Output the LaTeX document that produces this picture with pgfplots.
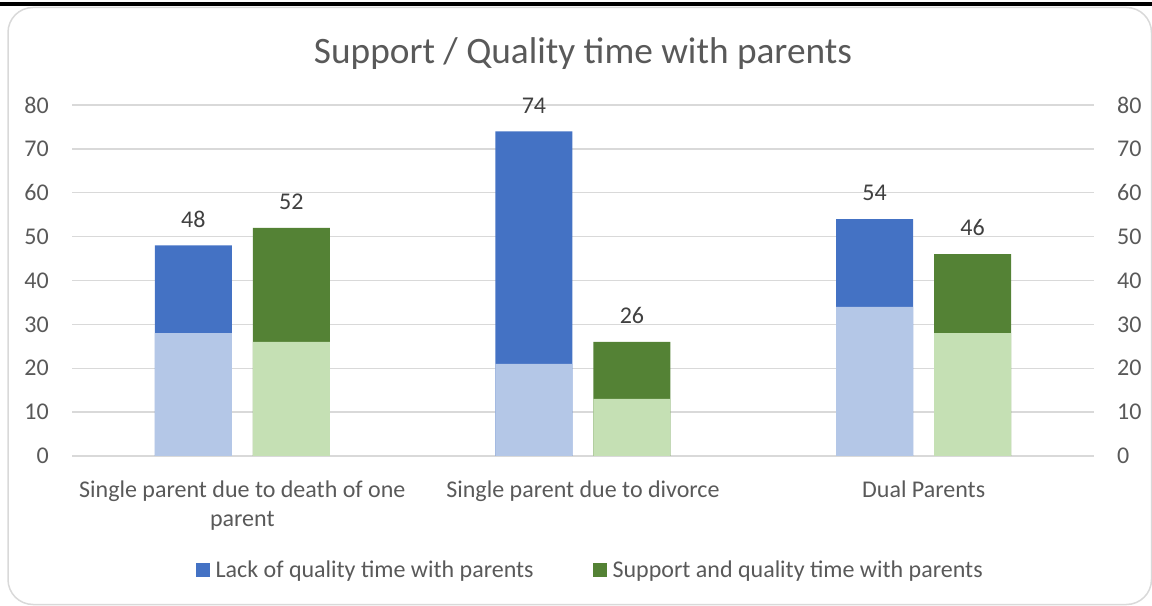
\documentclass[border=0pt]{standalone}
\usepackage{fontspec}
\setmainfont{Carlito}
\usepackage{pgfplots}
\pgfplotsset{compat=1.18}

\definecolor{darkblue}{HTML}{4472C4}
\definecolor{lightblue}{HTML}{B4C7E7}
\definecolor{darkgreen}{HTML}{548235}
\definecolor{lightgreen}{HTML}{C5E0B4}
\definecolor{gridgray}{HTML}{D9D9D9}
\definecolor{textgray}{HTML}{595959}
\definecolor{labelgray}{HTML}{404040}

\newcommand{\tickfont}{\fontsize{24bp}{29bp}\selectfont}

\begin{document}
\begin{tikzpicture}
\useasboundingbox (0bp,0bp) rectangle (1152bp,606bp);
% rule above the chart box
\fill[black] (0bp,600bp) rectangle (1152bp,603.5bp);
% chart box
\draw[gridgray, line width=1.5bp, rounded corners=25bp] (8bp,1.5bp) rectangle (1151.5bp,598.5bp);
% title
\node[text=textgray, font=\fontsize{37.3bp}{44bp}\selectfont] at (583bp,552bp) {Support / Quality time with parents};

\begin{axis}[
  at={(72bp,150bp)}, anchor=south west,
  scale only axis, width=1022bp, height=351bp,
  xmin=-0.5, xmax=2.5, ymin=0, ymax=80,
  ytick={0,10,...,80},
  ymajorgrids, grid style={gridgray, line width=1.3bp},
  axis line style={draw=none},
  tick style={draw=none},
  /pgf/number format/assume math mode=true,
  yticklabel style={font=\tickfont, text=textgray, inner sep=0pt},
  yticklabel shift=23bp,
  xtick={0,1,2},
  xticklabels={{Single parent due to death of one\\parent},{Single parent due to divorce},{Dual Parents}},
  xticklabel style={font=\tickfont, text=textgray, align=center, inner sep=0pt, anchor=north},
  xticklabel shift=20bp,
  ybar, bar width=77bp,
  legend columns=2,
  legend style={draw=none, fill=none, font=\tickfont, text=textgray,
    at={(0.507,-0.325)}, anchor=center,
    /tikz/every odd column/.append style={column sep=4bp},
    /tikz/every even column/.append style={column sep=57bp}},
  legend image code/.code={\fill[#1] (0bp,-7bp) rectangle (14bp,7bp);},
  nodes near coords style={font=\tickfont, text=labelgray, inner sep=0pt, anchor=south, yshift=18bp},
]
% totals
\addplot[fill=darkblue, draw=none, bar shift=-49bp, nodes near coords]
  coordinates {(0,48) (1,74) (2,54)};
\addplot[fill=darkgreen, draw=none, bar shift=49bp, nodes near coords]
  coordinates {(0,52) (1,26) (2,46)};
% lower parts of each bar
\addplot[fill=lightblue, draw=none, bar shift=-49bp, forget plot]
  coordinates {(0,28) (1,21) (2,34)};
\addplot[fill=lightgreen, draw=none, bar shift=49bp, forget plot]
  coordinates {(0,26) (1,13) (2,28)};
\legend{Lack of quality time with parents, Support and quality time with parents}
\end{axis}

% right-hand value axis
\begin{axis}[
  at={(72bp,150bp)}, anchor=south west,
  scale only axis, width=1022bp, height=351bp,
  xmin=-0.5, xmax=2.5, ymin=0, ymax=80,
  ytick={0,10,...,80},
  hide x axis,
  axis y line*=right,
  axis line style={draw=none},
  tick style={draw=none},
  /pgf/number format/assume math mode=true,
  yticklabel style={font=\tickfont, text=textgray, inner sep=0pt},
  yticklabel shift=23bp,
]
\end{axis}
\end{tikzpicture}
\end{document}
